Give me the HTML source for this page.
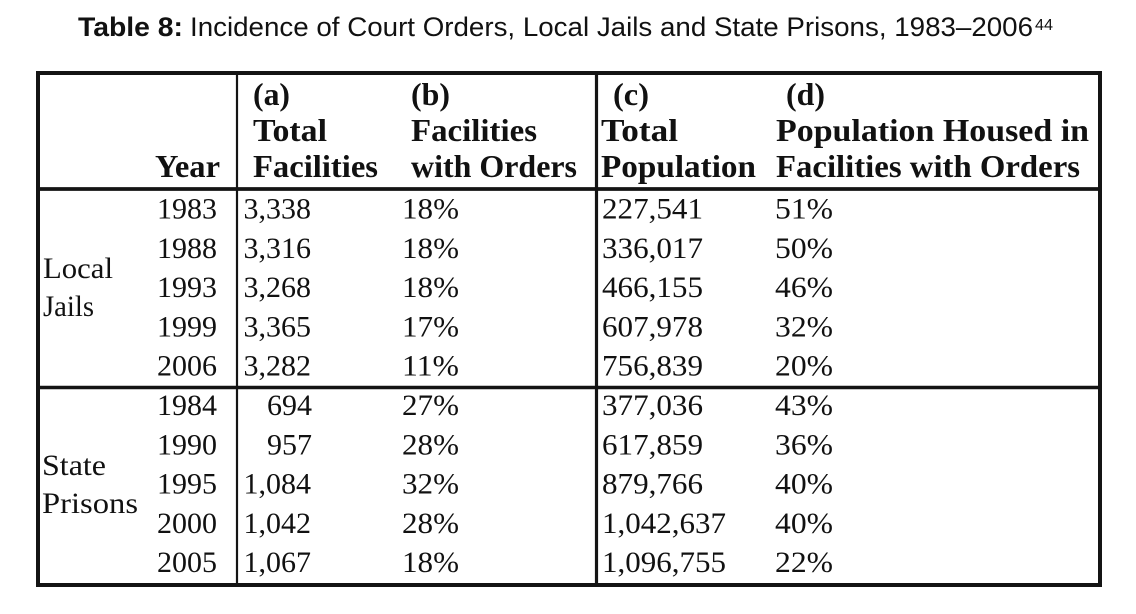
<!DOCTYPE html>
<html>
<head>
<meta charset="utf-8">
<style>
  html, body { margin: 0; padding: 0; background: #ffffff; }
  body { width: 1136px; height: 614px; overflow: hidden; }
  svg { display: block; }
  .t { font-family: "Liberation Sans", sans-serif; fill: #111; }
  .h { font-family: "Liberation Serif", serif; font-weight: bold; font-size: 32px; fill: #111; }
  .d { font-family: "Liberation Serif", serif; font-size: 30px; fill: #111; }
</style>
</head>
<body>
<svg width="1136" height="614" viewBox="0 0 1136 614" xmlns="http://www.w3.org/2000/svg">
  <rect x="0" y="0" width="1136" height="614" fill="#ffffff"/>

  <!-- Title -->
  <text class="t" x="78" y="36" font-size="26.5" font-weight="bold" textLength="105" lengthAdjust="spacingAndGlyphs">Table 8:</text>
  <text class="t" x="190" y="36" font-size="26.5" textLength="843" lengthAdjust="spacingAndGlyphs">Incidence of Court Orders, Local Jails and State Prisons, 1983–2006</text>
  <text class="t" x="1035" y="30" font-size="16" textLength="18" lengthAdjust="spacingAndGlyphs">44</text>

  <!-- Table lines -->
  <rect x="38" y="73" width="1062" height="512" fill="none" stroke="#141414" stroke-width="4"/>
  <line x1="36" y1="189" x2="1102" y2="189" stroke="#141414" stroke-width="3.8"/>
  <line x1="36" y1="387.5" x2="1102" y2="387.5" stroke="#141414" stroke-width="3.5"/>
  <line x1="237" y1="73" x2="237" y2="585" stroke="#141414" stroke-width="2.2"/>
  <line x1="596.5" y1="73" x2="596.5" y2="585" stroke="#141414" stroke-width="3.2"/>

  <!-- Header -->
  <text class="h" x="155" y="177" textLength="65" lengthAdjust="spacingAndGlyphs">Year</text>

  <text class="h" x="253" y="105" textLength="37" lengthAdjust="spacingAndGlyphs">(a)</text>
  <text class="h" x="253" y="141" textLength="74" lengthAdjust="spacingAndGlyphs">Total</text>
  <text class="h" x="253" y="177" textLength="125" lengthAdjust="spacingAndGlyphs">Facilities</text>

  <text class="h" x="411" y="105" textLength="39" lengthAdjust="spacingAndGlyphs">(b)</text>
  <text class="h" x="411" y="141" textLength="126" lengthAdjust="spacingAndGlyphs">Facilities</text>
  <text class="h" x="411" y="177" textLength="166" lengthAdjust="spacingAndGlyphs">with Orders</text>

  <text class="h" x="613" y="105" textLength="36" lengthAdjust="spacingAndGlyphs">(c)</text>
  <text class="h" x="601" y="141" textLength="77" lengthAdjust="spacingAndGlyphs">Total</text>
  <text class="h" x="601" y="177" textLength="155" lengthAdjust="spacingAndGlyphs">Population</text>

  <text class="h" x="786" y="105" textLength="39" lengthAdjust="spacingAndGlyphs">(d)</text>
  <text class="h" x="776" y="141" textLength="313" lengthAdjust="spacingAndGlyphs">Population Housed in</text>
  <text class="h" x="776" y="177" textLength="304" lengthAdjust="spacingAndGlyphs">Facilities with Orders</text>

  <!-- Row group labels -->
  <text class="d" x="43" y="278" textLength="70" lengthAdjust="spacingAndGlyphs">Local</text>
  <text class="d" x="43" y="316" textLength="51" lengthAdjust="spacingAndGlyphs">Jails</text>
  <text class="d" x="42" y="475" textLength="64" lengthAdjust="spacingAndGlyphs">State</text>
  <text class="d" x="42" y="513" textLength="96" lengthAdjust="spacingAndGlyphs">Prisons</text>

  <!-- Years -->
  <g class="d" text-anchor="end">
    <text x="217" y="218.5">1983</text>
    <text x="217" y="257.8">1988</text>
    <text x="217" y="297.1">1993</text>
    <text x="217" y="336.4">1999</text>
    <text x="217" y="375.7">2006</text>
    <text x="217" y="415">1984</text>
    <text x="217" y="454.3">1990</text>
    <text x="217" y="493.6">1995</text>
    <text x="217" y="532.9">2000</text>
    <text x="217" y="572.2">2005</text>
  </g>

  <!-- (a) Total Facilities -->
  <g class="d" text-anchor="end">
    <text x="311" y="218.5">3,338</text>
    <text x="311" y="257.8">3,316</text>
    <text x="311" y="297.1">3,268</text>
    <text x="311" y="336.4">3,365</text>
    <text x="311" y="375.7">3,282</text>
    <text x="312" y="415">694</text>
    <text x="312" y="454.3">957</text>
    <text x="311" y="493.6">1,084</text>
    <text x="311" y="532.9">1,042</text>
    <text x="311" y="572.2">1,067</text>
  </g>

  <!-- (b) Facilities with Orders -->
  <g class="d">
    <text x="402" y="218.5" textLength="57" lengthAdjust="spacingAndGlyphs">18%</text>
    <text x="402" y="257.8" textLength="57" lengthAdjust="spacingAndGlyphs">18%</text>
    <text x="402" y="297.1" textLength="57" lengthAdjust="spacingAndGlyphs">18%</text>
    <text x="402" y="336.4" textLength="57" lengthAdjust="spacingAndGlyphs">17%</text>
    <text x="402" y="375.7" textLength="57" lengthAdjust="spacingAndGlyphs">11%</text>
    <text x="402" y="415" textLength="57" lengthAdjust="spacingAndGlyphs">27%</text>
    <text x="402" y="454.3" textLength="57" lengthAdjust="spacingAndGlyphs">28%</text>
    <text x="402" y="493.6" textLength="57" lengthAdjust="spacingAndGlyphs">32%</text>
    <text x="402" y="532.9" textLength="57" lengthAdjust="spacingAndGlyphs">28%</text>
    <text x="402" y="572.2" textLength="57" lengthAdjust="spacingAndGlyphs">18%</text>
  </g>

  <!-- (c) Total Population -->
  <g class="d">
    <text x="602" y="218.5" textLength="101" lengthAdjust="spacingAndGlyphs">227,541</text>
    <text x="602" y="257.8" textLength="101" lengthAdjust="spacingAndGlyphs">336,017</text>
    <text x="602" y="297.1" textLength="101" lengthAdjust="spacingAndGlyphs">466,155</text>
    <text x="602" y="336.4" textLength="101" lengthAdjust="spacingAndGlyphs">607,978</text>
    <text x="602" y="375.7" textLength="101" lengthAdjust="spacingAndGlyphs">756,839</text>
    <text x="602" y="415" textLength="101" lengthAdjust="spacingAndGlyphs">377,036</text>
    <text x="602" y="454.3" textLength="101" lengthAdjust="spacingAndGlyphs">617,859</text>
    <text x="602" y="493.6" textLength="101" lengthAdjust="spacingAndGlyphs">879,766</text>
    <text x="602" y="532.9" textLength="124" lengthAdjust="spacingAndGlyphs">1,042,637</text>
    <text x="602" y="572.2" textLength="124" lengthAdjust="spacingAndGlyphs">1,096,755</text>
  </g>

  <!-- (d) Population Housed in Facilities with Orders -->
  <g class="d">
    <text x="775" y="218.5" textLength="58" lengthAdjust="spacingAndGlyphs">51%</text>
    <text x="775" y="257.8" textLength="58" lengthAdjust="spacingAndGlyphs">50%</text>
    <text x="775" y="297.1" textLength="58" lengthAdjust="spacingAndGlyphs">46%</text>
    <text x="775" y="336.4" textLength="58" lengthAdjust="spacingAndGlyphs">32%</text>
    <text x="775" y="375.7" textLength="58" lengthAdjust="spacingAndGlyphs">20%</text>
    <text x="775" y="415" textLength="58" lengthAdjust="spacingAndGlyphs">43%</text>
    <text x="775" y="454.3" textLength="58" lengthAdjust="spacingAndGlyphs">36%</text>
    <text x="775" y="493.6" textLength="58" lengthAdjust="spacingAndGlyphs">40%</text>
    <text x="775" y="532.9" textLength="58" lengthAdjust="spacingAndGlyphs">40%</text>
    <text x="775" y="572.2" textLength="58" lengthAdjust="spacingAndGlyphs">22%</text>
  </g>
</svg>
</body>
</html>
